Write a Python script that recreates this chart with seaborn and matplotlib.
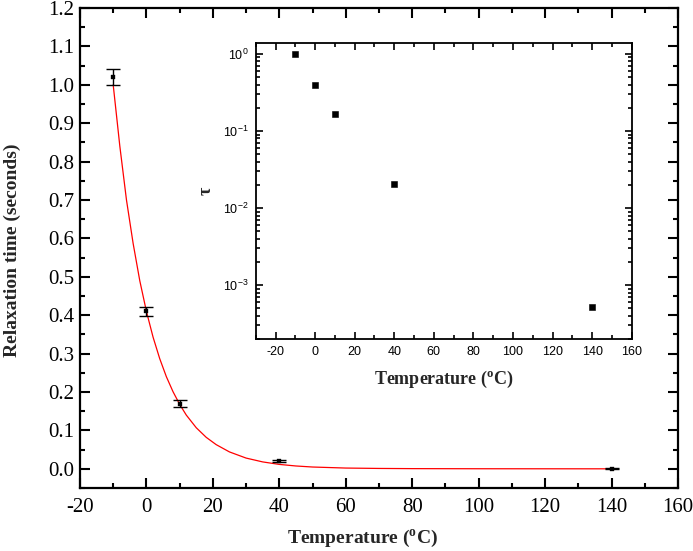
import numpy as np
import matplotlib
matplotlib.use("Agg")
import matplotlib.pyplot as plt
import seaborn as sns
from matplotlib.ticker import MultipleLocator, LogLocator, FuncFormatter, NullFormatter

# measured points (main panel, with error bars)
temps = [-10, 0, 10, 40, 140]
relax = [1.02, 0.41, 0.17, 0.021, 0.0005]
relax_err = [0.02, 0.012, 0.008, 0.003, 0.001]

# inset values (log scale)
tau = [1.0, 0.40, 0.168, 0.0205, 0.00052]

# red fit curve
fit_t = [-10, -8, -6, -4, -2, 0, 2, 4, 6, 8, 10, 12, 15, 18, 21, 25, 30,
         35, 40, 45, 50, 60, 70, 80, 100, 120, 140]
fit_y = [1.00, 0.84, 0.70, 0.587, 0.49, 0.41, 0.343, 0.287, 0.24, 0.201,
         0.168, 0.140, 0.107, 0.082, 0.063, 0.044, 0.028, 0.018, 0.0115,
         0.0074, 0.0047, 0.002, 0.001, 0.0005, 0.0002, 0.0001, 0.0]

sns.set_theme(style="ticks")
plt.rcParams["font.family"] = ["Liberation Serif", "DejaVu Serif"]
plt.rcParams["axes.unicode_minus"] = False
plt.rcParams["axes.edgecolor"] = "black"
plt.rcParams["xtick.color"] = "black"
plt.rcParams["ytick.color"] = "black"
plt.rcParams["text.color"] = "black"

fig = plt.figure(figsize=(6.93, 5.51), dpi=100)
fig.patch.set_facecolor("white")

# Main panel
ax = fig.add_axes([0.1154, 0.1143, 0.8629, 0.8711])
sns.lineplot(x=fit_t, y=fit_y, color="red", lw=0.9, ax=ax, zorder=2)
ax.errorbar(temps, relax, yerr=relax_err, fmt="none", ecolor="black",
            elinewidth=1, capsize=5, capthick=1, zorder=3)
sns.scatterplot(x=temps, y=relax, marker="s", s=9, color="black",
                edgecolor="black", ax=ax, zorder=4)

ax.set_xlim(-20, 160)
ax.set_ylim(-0.05, 1.2)
ax.xaxis.set_major_locator(MultipleLocator(20))
ax.xaxis.set_minor_locator(MultipleLocator(10))
ax.yaxis.set_major_locator(MultipleLocator(0.1))
ax.yaxis.set_minor_locator(MultipleLocator(0.05))
ax.yaxis.set_major_formatter(FuncFormatter(lambda v, p: f"{v:.1f}"))
ax.tick_params(which="both", direction="in", top=True, right=True, width=1.5)
ax.tick_params(which="major", length=7, labelsize=15)
ax.tick_params(which="minor", length=3.5)
ax.tick_params(axis="x", pad=7)
ax.tick_params(axis="y", pad=4)
for s in ax.spines.values():
    s.set_linewidth(1.6)
    s.set_visible(True)

ax.set_xlabel(r"Temperature ($\mathregular{^o}$C)", fontsize=14, fontweight="bold")
ax.set_ylabel("Relaxation time (seconds)", fontsize=14, fontweight="bold")
ax.xaxis.set_label_coords(0.472, -0.084)
ax.yaxis.set_label_coords(-0.098, 0.496)

# Inset
axin = fig.add_axes([0.369, 0.3848, 0.5425, 0.5377])
sns.scatterplot(x=temps, y=tau, marker="s", s=25, color="black",
                edgecolor="black", ax=axin, zorder=3)
axin.set_yscale("log")
axin.set_xlim(-30, 160)
axin.set_ylim(2e-4, 1.4)
axin.xaxis.set_major_locator(MultipleLocator(20))
axin.xaxis.set_minor_locator(MultipleLocator(10))
axin.yaxis.set_major_locator(LogLocator(base=10))
axin.yaxis.set_minor_locator(LogLocator(base=10, subs=np.arange(2, 10)))
axin.yaxis.set_minor_formatter(NullFormatter())
axin.yaxis.set_major_formatter(
    FuncFormatter(lambda v, p: r"$\mathregular{10^{%d}}$" % int(round(np.log10(v)))))
axin.tick_params(which="both", direction="in", top=True, right=True, width=1.2)
axin.tick_params(which="major", length=5, labelsize=9, pad=5)
axin.tick_params(which="minor", length=3)
for lab in axin.get_xticklabels() + axin.get_yticklabels():
    lab.set_fontfamily(["Liberation Sans", "DejaVu Sans"])
for s in axin.spines.values():
    s.set_linewidth(1.3)
    s.set_visible(True)

axin.set_xlabel(r"Temperature ($\mathregular{^o}$C)", fontsize=13, fontweight="bold")
axin.set_ylabel("τ", fontsize=13, fontweight="bold")
axin.xaxis.set_label_coords(0.5, -0.10)
axin.yaxis.set_label_coords(-0.108, 0.5)

fig.savefig("out.png", dpi=100, facecolor="white")
